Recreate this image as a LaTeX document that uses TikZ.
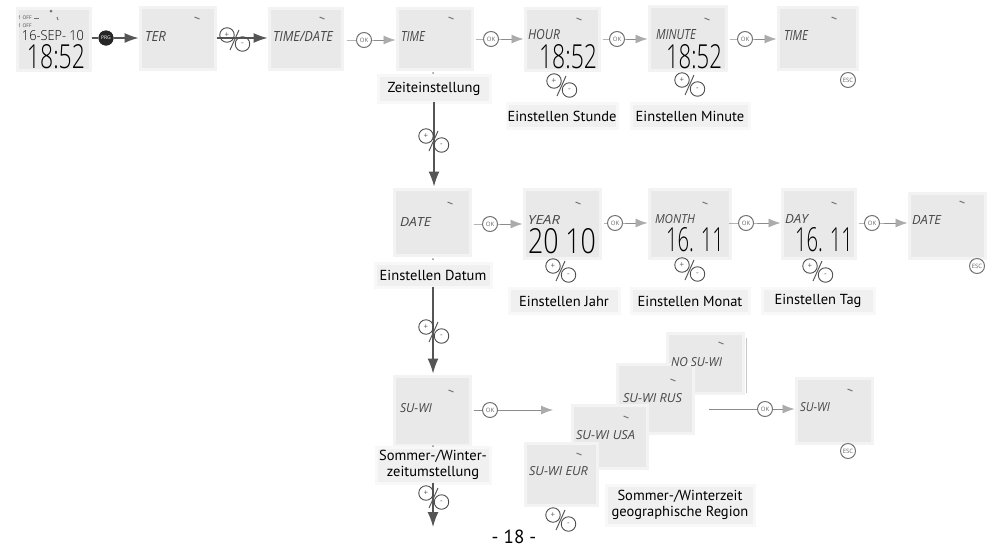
\documentclass[tikz,border=0pt]{standalone}
\usepackage{fontspec}
\usepackage{graphicx}
\setmainfont{PT Sans}
\newfontfamily\lcdfont{Open Sans}
\newfontfamily\digfont{Open Sans Light}
\usetikzlibrary{arrows.meta}
\definecolor{boxgray}{HTML}{E9E9E9}
\definecolor{boxedge}{HTML}{F3F3F3}
\definecolor{lblgray}{HTML}{F0F0F0}
\definecolor{flowgray}{HTML}{ABABAB}
\definecolor{linegray}{HTML}{8C8C8C}
\definecolor{darkflow}{HTML}{555555}
\tikzset{
  x=1pt,y=-1pt,
  lcdbox/.style={fill=boxgray,draw=boxedge,line width=3pt,inner sep=0pt},
  lblbox/.style={fill=lblgray,draw=lblgray!50!white,line width=3pt,inner sep=0pt,align=center,font=\fontsize{14.5}{16}\selectfont,text=black},
  lcdtext/.style={inner sep=0pt,text=black!72,font=\lcdfont\itshape},
  digtext/.style={inner sep=0pt,text=black,font=\digfont},
  okbtn/.style={circle,draw=black!55,fill=white,line width=1pt,minimum size=15pt,inner sep=0pt,font=\lcdfont\fontsize{6}{6}\selectfont,text=black!60},
  pmbtn/.style={circle,draw=black!70,fill=none,line width=.9pt,minimum size=14.5pt,inner sep=0pt,font=\lcdfont\fontsize{8}{8}\selectfont,text=black!65},
  flowarrow/.style={draw=linegray,line width=.8pt,-{Latex[length=12pt,width=9pt,color=flowgray]}},
  darkarrow/.style={draw=darkflow,line width=1.2pt,-{Latex[length=14pt,width=10pt,color=darkflow]}},
  downarrow/.style={draw=darkflow,line width=1.4pt,-{Latex[length=15pt,width=11pt,color=darkflow]}},
  tick mark/.style={draw=black!55,line width=1pt},
}
\newcommand\lcd[5]{\node[lcdbox,minimum width={#4pt-#2pt},minimum height={#5pt-#3pt}] (#1) at ({(#2+#4)/2},{(#3+#5)/2}) {};}
\newcommand\ltxt[6]{\node[lcdtext] (#1) at ({(#2+#3)/2},#4) {\resizebox{\dimexpr#3pt-#2pt\relax}{#5pt}{#6}};}
\newcommand\dtxt[6]{\node[digtext] (#1) at ({(#2+#3)/2},{(#4+#5)/2}) {\resizebox{\dimexpr#3pt-#2pt\relax}{\dimexpr#5pt-#4pt\relax}{#6}};}
\newcommand\tk[2]{\draw[tick mark] (#1-2.5,#2-1) -- (#1+2.5,#2+1);}
\newcommand\dt[2]{\fill[black!45] (#1,#2) circle (1pt);}
\newcommand\lbl[6]{\node[lblbox,minimum width=#4pt,minimum height=#5pt] (#1) at (#2,#3) {#6};}
\newcommand\plusminus[3]{%
  \node[pmbtn] (#1p) at (#2,#3) {+};
  \node[pmbtn] (#1m) at (#2+15.5,#3+9) {-};
  \coordinate (#1a) at (#2+12,#3-5);
  \coordinate (#1b) at (#2+3,#3+15);
  \draw[draw=black!65,line width=1pt] (#1a) -- (#1b);}
\begin{document}
\begin{tikzpicture}
\useasboundingbox (0,0) rectangle (995,547);
% displays, row 1
\lcd{d0}{17}{8}{90}{70}
\lcd{d1}{140}{7}{215}{69}
\lcd{d2}{269}{8}{342}{69}
\lcd{d3}{397}{8}{472}{69}
\lcd{d4}{525}{8}{599}{70}
\lcd{d5}{649}{6}{726}{70}
\lcd{d6}{778}{7}{857}{69}
% row 2
\lcd{e0}{394}{189}{470}{255}
\lcd{e1}{524}{189}{600}{258}
\lcd{e2}{649}{189}{730}{258}
\lcd{e3}{782}{189}{855}{258}
\lcd{e4}{909}{193}{985}{258}
% row 3
\lcd{f0}{394}{376}{470}{445}
\lcd{g3}{667}{333}{743}{393}
\lcd{g2}{617}{364}{693}{433}
\lcd{g1}{572}{405}{647}{468}
\lcd{g0}{525}{443}{597}{505}
\lcd{f1}{796}{378}{872}{443}
\draw[draw=black!22,line width=.4pt] (g3.east) ++(1.5,-25) -- ++(0,55);
% labels
\lbl{l1}{434}{89}{112}{27}{Zeiteinstellung}
\lbl{l2}{562}{116}{110}{25}{Einstellen Stunde}
\lbl{l3}{690}{116}{118}{25}{Einstellen Minute}
\lbl{l4}{433}{275}{116}{24}{Einstellen Datum}
\lbl{l5}{564}{301}{110}{25}{Einstellen Jahr}
\lbl{l6}{690}{301}{118}{25}{Einstellen Monat}
\lbl{l7}{818}{301}{112}{25}{Einstellen Tag}
\lbl{l8}{433}{465}{114}{36}{Sommer-/Winter-\\zeitumstellung}
\lbl{l9}{680}{505}{148}{40}{Sommer-/Winterzeit\\geographische Region}
% first display
\node[inner sep=0pt,text=black!70,font=\lcdfont\fontsize{5}{5}\selectfont] (o1) at (25,18) {1 OFF};
\node[inner sep=0pt,text=black!70,font=\lcdfont\fontsize{5}{5}\selectfont] (o2) at (25,26) {1 OFF};
\draw[tick mark] (34,18) -- (39,18);
\node[inner sep=0pt,circle,fill=black!55,minimum size=3pt] (sun) at (51,11) {};
\draw[tick mark] (57,17) -- (58,20);
\dtxt{t0}{22}{84}{31}{41}{16-SEP- 10}
\dtxt{t1}{27}{85}{45}{69}{18:52}
% display texts
\ltxt{a1}{145}{166}{36}{10}{TER}
\ltxt{a2}{273}{333}{36}{10}{TIME/DATE}
\ltxt{a3}{401}{425}{36}{10}{TIME}
\ltxt{a4}{528}{560}{35}{10}{HOUR}
\ltxt{a5}{656}{696}{35}{10}{MINUTE}
\ltxt{a6}{784}{808}{35}{10}{TIME}
\dtxt{b4}{539}{597}{45}{69}{18:52}
\dtxt{b5}{666}{722}{45}{69}{18:52}
\ltxt{c0}{400}{431}{222}{9}{DATE}
\ltxt{c1}{528}{560}{220}{9}{YEAR}
\ltxt{c2}{655}{695}{219}{9}{MONTH}
\ltxt{c3}{785}{808}{219}{9}{DAY}
\ltxt{c4}{912}{941}{220}{9}{DATE}
\dtxt{h1}{528}{596}{229}{254}{20 10}
\dtxt{h2}{666}{724}{228}{252}{16. 11}
\dtxt{h3}{795}{853}{228}{252}{16. 11}
\ltxt{s0}{400}{432}{408}{9}{SU-WI}
\ltxt{s1}{529}{588}{471}{9}{SU-WI EUR}
\ltxt{s2}{576}{635}{435}{9}{SU-WI USA}
\ltxt{s3}{623}{682}{398}{9}{SU-WI RUS}
\ltxt{s4}{671}{722}{362}{9}{NO SU-WI}
\ltxt{s5}{800}{830}{407}{9}{SU-WI}
% ticks
\tk{197}{18}\tk{322}{18}\tk{451}{18}\tk{579}{19}\tk{707}{19}\tk{834}{18}
\tk{450}{203}\tk{578}{203}\tk{705}{203}\tk{834}{203}\tk{962}{202}
\tk{451}{391}\tk{579}{454}\tk{626}{417}\tk{673}{380}\tk{721}{343}\tk{850}{390}
% connector ends and buttons
\node[circle,fill=black!85,minimum size=15pt,inner sep=0pt,font=\lcdfont\fontsize{5}{5}\selectfont,text=white] (prg) at (106,38) {PRG};
\foreach \n/\x/\y in {k1/364/40,k2/491/39,k3/617/39,k4/745/39,k5/490/224,k6/615/223,k7/746/223,k8/872/223,k9/490/410,k10/765/409}
  {\coordinate (\n) at (\x,\y);}
\foreach \n/\x/\y in {v1/848/80,v2/977/266,v3/848/451}
  {\node[okbtn] (\n) at (\x,\y) {ESC};}
% connectors
\draw[darkarrow] (d0.east |- prg) -- (prg) -- (d1.west |- prg);
\coordinate (pma) at (217,38);
\draw[darkarrow] (pma) -- (d2.west |- pma);
\draw[flowarrow] ([xshift=3pt]d2.east |- k1) -- (k1) -- (d3.west |- k1);
\draw[flowarrow] ([xshift=2pt]d3.east |- k2) -- (k2) -- (d4.west |- k2);
\draw[flowarrow] ([xshift=2pt]d4.east |- k3) -- (k3) -- (d5.west |- k3);
\draw[flowarrow] ([xshift=2pt]d5.east |- k4) -- (k4) -- (d6.west |- k4);
\draw[flowarrow] ([xshift=2pt]e0.east |- k5) -- (k5) -- (e1.west |- k5);
\draw[flowarrow] ([xshift=2pt]e1.east |- k6) -- (k6) -- (e2.west |- k6);
\draw[flowarrow] ([xshift=-3pt]e2.east |- k7) -- (k7) -- (e3.west |- k7);
\draw[flowarrow] ([xshift=2pt]e3.east |- k8) -- (k8) -- (e4.west |- k8);
\coordinate (r1) at (553,410);
\draw[flowarrow] ([xshift=2pt]f0.east |- k9) -- (k9) -- (r1);
\coordinate (r2) at (709,409);
\draw[flowarrow] (r2) -- (k10) -- (f1.west |- k10);
\foreach \n in {k1,k2,k3,k4,k5,k6,k7,k8,k9,k10}
  {\node[okbtn] (\n btn) at (\n) {OK};}
\node[circle,fill=black!85,minimum size=15pt,inner sep=0pt,font=\lcdfont\fontsize{5}{5}\selectfont,text=white] (prgtop) at (prg) {PRG};
\draw[downarrow] ([yshift=2pt]l1.south) -- ([yshift=1pt]e0.north -| l1.south);
\draw[downarrow] ([yshift=2pt]l4.south) -- ([yshift=1pt]f0.north -| l4.south);
\coordinate (endv) at (433,527);
\draw[downarrow] ([yshift=2pt]l8.south) -- (endv);
\dt{433}{73}\dt{433}{259}\dt{433}{446}
% plus-minus pairs
\plusminus{q1}{227}{35}
\plusminus{q2}{554}{81}
\plusminus{q3}{682}{80}
\plusminus{q4}{426}{136}
\plusminus{q5}{553}{266}
\plusminus{q6}{682}{265}
\plusminus{q7}{810}{266}
\plusminus{q8}{426}{327}
\plusminus{q9}{426}{493}
\plusminus{q10}{553}{515}
\node[inner sep=0pt,font=\fontsize{19}{20}\selectfont,text=black] (page) at (514,537) {- 18 -};
\end{tikzpicture}
\end{document}
